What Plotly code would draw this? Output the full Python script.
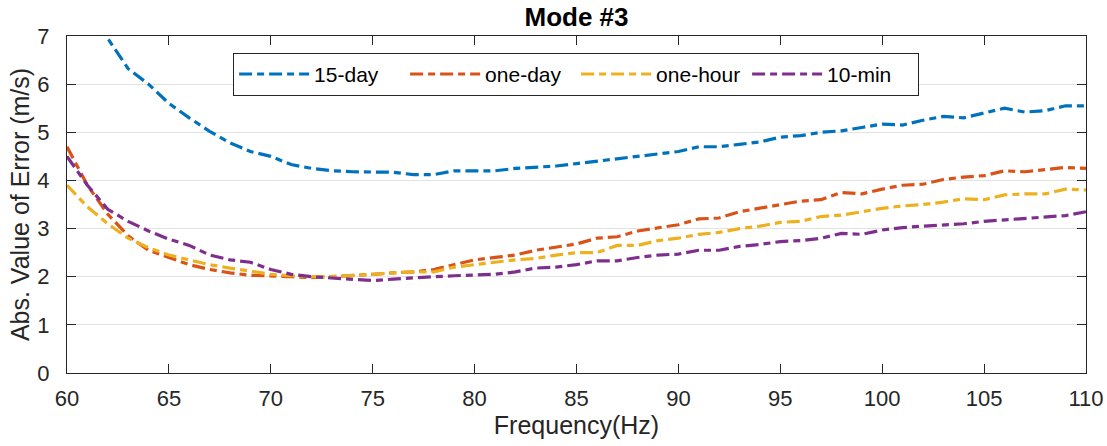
import plotly.graph_objects as go

freq = list(range(60, 111))

fifteen_day = [8.3, 7.6, 6.95, 6.32, 6.0, 5.6, 5.3, 5.02, 4.78, 4.6, 4.5,
               4.33, 4.25, 4.2, 4.18, 4.17, 4.17, 4.12, 4.12, 4.2, 4.2,
               4.2, 4.25, 4.28, 4.3, 4.35, 4.4, 4.45, 4.5, 4.55, 4.6,
               4.7, 4.7, 4.75, 4.8, 4.9, 4.93, 5.0, 5.03, 5.1, 5.17,
               5.15, 5.25, 5.33, 5.3, 5.4, 5.5, 5.42, 5.45, 5.55, 5.55]

one_day = [4.7, 3.9, 3.3, 2.85, 2.55, 2.4, 2.25, 2.15, 2.08, 2.03, 2.02,
           2.0, 1.98, 2.0, 2.03, 2.05, 2.08, 2.1, 2.15, 2.25, 2.35,
           2.4, 2.45, 2.55, 2.62, 2.68, 2.8, 2.83, 2.95, 3.02, 3.08,
           3.2, 3.22, 3.35, 3.42, 3.5, 3.57, 3.6, 3.75, 3.72, 3.82,
           3.9, 3.92, 4.02, 4.07, 4.1, 4.2, 4.18, 4.23, 4.27, 4.25]

one_hour = [3.9, 3.45, 3.1, 2.8, 2.6, 2.45, 2.35, 2.25, 2.18, 2.12, 2.05,
            2.02, 2.0, 2.0, 2.02, 2.05, 2.08, 2.1, 2.1, 2.2, 2.25,
            2.3, 2.35, 2.38, 2.45, 2.5, 2.5, 2.65, 2.65, 2.75, 2.8,
            2.88, 2.92, 3.0, 3.05, 3.13, 3.15, 3.25, 3.28, 3.35, 3.42,
            3.47, 3.5, 3.55, 3.62, 3.6, 3.7, 3.72, 3.72, 3.82, 3.8]

ten_min = [4.5, 3.9, 3.4, 3.15, 2.95, 2.78, 2.65, 2.45, 2.35, 2.3, 2.15,
           2.05, 2.0, 1.97, 1.95, 1.92, 1.95, 1.98, 2.0, 2.02, 2.03,
           2.05, 2.1, 2.18, 2.2, 2.25, 2.33, 2.33, 2.4, 2.45, 2.47,
           2.55, 2.55, 2.63, 2.67, 2.73, 2.75, 2.8, 2.9, 2.88, 2.97,
           3.02, 3.05, 3.08, 3.1, 3.15, 3.18, 3.2, 3.23, 3.27, 3.35]

series_names = ["15-day", "one-day", "one-hour", "10-min"]
series_values = [fifteen_day, one_day, one_hour, ten_min]
colors = ["#0072BD", "#D95319", "#EDB120", "#7E2F8E"]

x_ticks = [60, 65, 70, 75, 80, 85, 90, 95, 100, 105, 110]
y_ticks = [0, 1, 2, 3, 4, 5, 6, 7]

TXT = "#262626"
FONT = "Liberation Sans, Arial, Helvetica, sans-serif"

fig = go.Figure()
for name, vals, col in zip(series_names, series_values, colors):
    fig.add_trace(go.Scatter(
        x=freq, y=vals, mode="lines", name=name,
        line=dict(color=col, width=3.2, dash="13px,5px,7px,5px"),
    ))

fig.update_layout(
    width=1107, height=446,
    margin=dict(l=67, r=21, t=36, b=73, autoexpand=False),
    paper_bgcolor="white", plot_bgcolor="white",
    font=dict(family=FONT, color=TXT, size=22),
    title=dict(text="<b>Mode #3</b>", x=0.5, xref="paper", xanchor="center",
               y=1 - 17 / 446, yref="container", yanchor="middle",
               font=dict(size=26, color="black", family=FONT)),
    showlegend=True,
    legend=dict(orientation="h", x=0.163, y=0.95, xanchor="left", yanchor="top",
                bgcolor="white", bordercolor=TXT, borderwidth=1,
                font=dict(size=21, color="black", family=FONT),
                itemwidth=70, entrywidth=86, entrywidthmode="pixels",
                tracegroupgap=0),
)

fig.update_xaxes(
    range=[60, 110], tickvals=x_ticks, ticktext=[str(v) for v in x_ticks],
    showline=True, linecolor=TXT, linewidth=1, mirror="ticks",
    ticks="inside", ticklen=9, tickcolor=TXT, tickwidth=1,
    showgrid=False, zeroline=False, automargin=False,
    tickfont=dict(size=22, color=TXT), ticklabelstandoff=6,
    title=dict(text="Frequency(Hz)", font=dict(size=25, color=TXT), standoff=4),
)
fig.update_yaxes(
    range=[0, 7], tickvals=y_ticks, ticktext=[str(v) for v in y_ticks],
    showline=True, linecolor=TXT, linewidth=1, mirror="ticks",
    ticks="inside", ticklen=9, tickcolor=TXT, tickwidth=1,
    showgrid=True, gridcolor="#e3e3e3", gridwidth=1, zeroline=False,
    automargin=False,
    tickfont=dict(size=22, color=TXT), ticklabelstandoff=12,
    title=dict(text="Abs. Value of Error (m/s)", font=dict(size=25, color=TXT), standoff=0),
)

fig.write_html("out.html")
